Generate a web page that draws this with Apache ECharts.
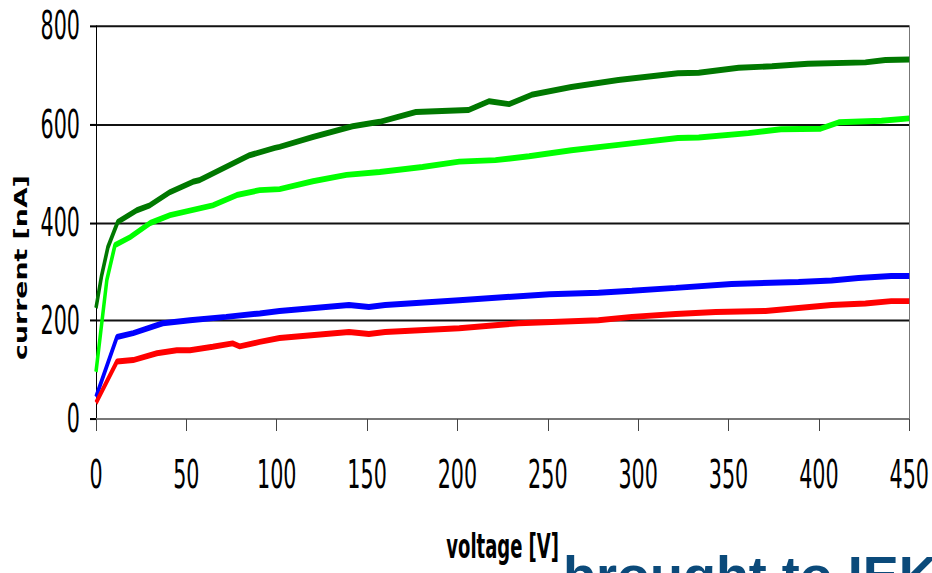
<!DOCTYPE html>
<html>
<head>
<meta charset="utf-8">
<title>current vs voltage</title>
<script src="https://cdn.jsdelivr.net/npm/echarts@6/dist/echarts.min.js"></script>
<style>
  html, body { margin: 0; padding: 0; background: #ffffff; overflow: hidden; }
  #wrap { width: 932px; height: 573px; overflow: hidden; position: relative; }
  /* the whole figure is drawn tall and narrow, as in the original slide */
  #chart { width: 932px; height: 337px; transform: scaleY(1.7); transform-origin: 0 0; }
</style>
</head>
<body>
<div id="wrap"><div id="chart"></div></div>
<script>
// voltage [V] sample points and current [nA] for each curve
const darkGreenV = [0, 3, 6.6, 12, 22.6, 29.8, 41, 53.6, 57, 85, 99, 101.6, 120, 142, 157, 177, 206, 217.6, 228.6, 241, 263, 289, 322, 333.5, 355.6, 374, 394, 425.7, 436.8, 450];
const darkGreenI = [226, 290, 350, 401, 425, 435, 462, 483, 486, 537, 552, 554, 574, 596, 605, 625, 629, 647, 641, 660, 676, 690, 704, 705, 715, 718, 723, 726, 731, 732];

const lightGreenV = [0, 6, 10.5, 18.8, 30, 41, 64.6, 77.9, 90.6, 101.6, 120, 138.6, 157, 180.6, 201, 221, 239.6, 263, 289, 322, 333.5, 361, 379, 401, 411, 434.6, 450];
const lightGreenI = [96, 283, 354, 370, 399, 415, 435, 456, 466, 468, 484, 497, 503, 513, 524, 527, 535, 547, 558, 572, 573, 582, 590, 591, 604, 607, 612];

const blueV = [0, 11.6, 20.6, 37, 52, 72, 90.6, 101.6, 140, 151, 160, 201, 251, 278, 296.5, 320.8, 351.7, 388.7, 407, 421.9, 440, 450];
const blueI = [45, 167, 175, 195, 201, 208, 215, 220, 232, 228, 232, 242, 254, 257, 261, 267, 275, 279, 282, 287, 291, 291];

const redV = [0, 11.6, 20.6, 33.7, 44.7, 52, 64.6, 75.6, 79.5, 90.6, 101.6, 140, 151, 160, 201, 234, 278, 296.5, 320.8, 342.9, 370.5, 388.7, 407, 425.7, 440, 450];
const redI = [33, 117, 120, 134, 140, 140, 147, 154, 148, 157, 165, 177, 173, 177, 185, 195, 201, 208, 214, 218, 220, 226, 232, 235, 240, 240];

const xTicks = [0, 50, 100, 150, 200, 250, 300, 350, 400, 450];
const yTicks = [0, 200, 400, 600, 800];

const heading = 'brought to IEK';
const stretch = 1.7;

function pairs(xs, ys) { return xs.map((x, i) => [x, ys[i]]); }

const narrow = '"Liberation Sans Narrow", "Arial Narrow", "DejaVu Sans Condensed", sans-serif';

const chart = echarts.init(document.getElementById('chart'), null, { renderer: 'svg', width: 932, height: 337 });

function curve(name, color, data) {
  return {
    name: name, type: 'line', data: data, symbol: 'none', showSymbol: false,
    lineStyle: { color: color, width: 3.5 }, itemStyle: { color: color },
    animation: false, z: 3
  };
}

chart.setOption({
  animation: false,
  backgroundColor: '#ffffff',
  grid: { left: 96, width: 815, top: 15.3, height: 231.2, containLabel: false },
  xAxis: {
    type: 'value', min: xTicks[0], max: xTicks[xTicks.length - 1], interval: 50,
    name: 'voltage [V]', nameLocation: 'middle', nameGap: 65,
    nameTextStyle: { fontFamily: narrow, fontWeight: 'bold', fontSize: 20, color: '#000' },
    axisLine: { show: true, lineStyle: { color: '#777', width: 1.2 } },
    axisTick: { show: true, length: 7, lineStyle: { color: '#444', width: 1 } },
    axisLabel: { margin: 21, fontFamily: narrow, fontSize: 23, color: '#000' },
    splitLine: { show: false }
  },
  yAxis: [{
    type: 'value', min: yTicks[0], max: yTicks[yTicks.length - 1], interval: 200,
    name: 'current [nA]', nameLocation: 'middle', nameGap: 64,
    nameTextStyle: { fontFamily: narrow, fontWeight: 'bold', fontSize: 17.5, color: '#000', padding: [0, 53, 0, 0] },
    axisLine: { show: true, lineStyle: { color: '#000', width: 1 } },
    axisTick: { show: true, length: 6, lineStyle: { color: '#000', width: 1.2 } },
    axisLabel: { margin: 16, fontFamily: narrow, fontSize: 23, color: '#000' },
    splitLine: { show: true, lineStyle: { color: '#111', width: 1.2 } }
  }, {
    type: 'value', position: 'right', min: 0, max: 800, interval: 200,
    axisLine: { show: true, lineStyle: { color: '#777', width: 1 } },
    axisTick: { show: false }, axisLabel: { show: false }, splitLine: { show: false }
  }],
  series: [
    curve('dark green', '#007800', pairs(darkGreenV, darkGreenI)),
    curve('light green', '#00ff00', pairs(lightGreenV, lightGreenI)),
    curve('blue', '#0000ff', pairs(blueV, blueI)),
    curve('red', '#ff0000', pairs(redV, redI))
  ],
  graphic: [{
    type: 'text', x: 563, y: 322.4, scaleY: 1 / stretch, z: 10,
    style: {
      text: heading, fill: '#0b4a7a', fontSize: 54, fontWeight: 'bold',
      fontFamily: 'Liberation Sans, Arial, sans-serif', verticalAlign: 'top', lineHeight: 54
    }
  }]
});
</script>
</body>
</html>
